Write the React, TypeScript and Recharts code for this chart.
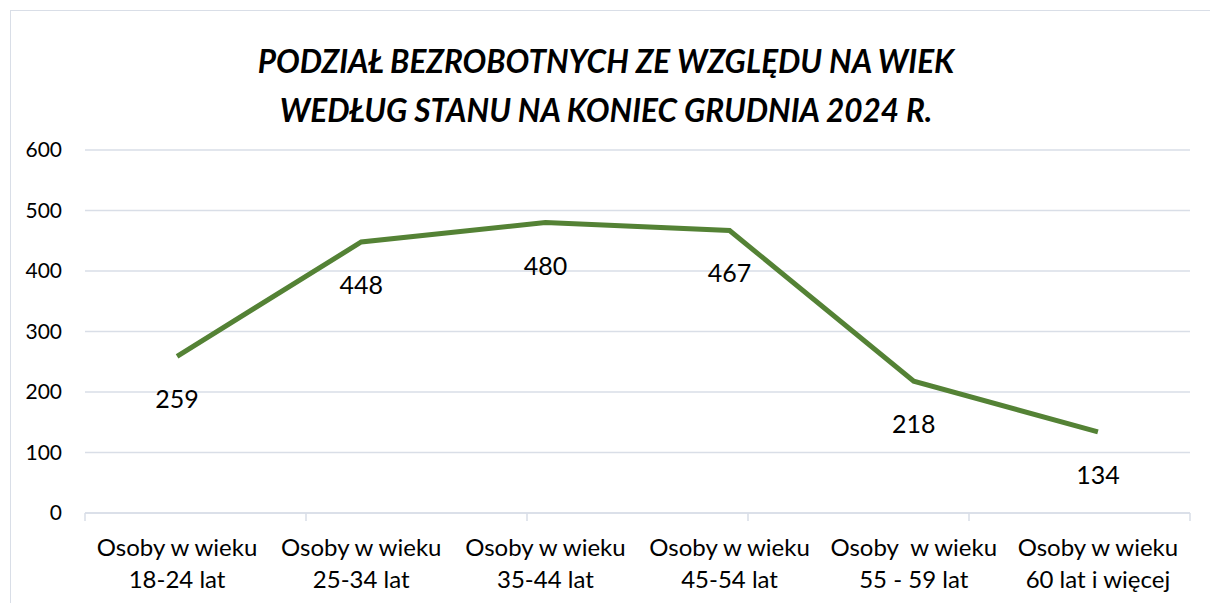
import { ComposedChart, Line, XAxis, YAxis, CartesianGrid, LabelList } from "recharts";

const CATEGORY_TOP = ["Osoby w wieku", "Osoby w wieku", "Osoby w wieku", "Osoby w wieku", "Osoby  w wieku", "Osoby w wieku"];
const CATEGORY_BOTTOM = ["18-24 lat", "25-34 lat", "35-44 lat", "45-54 lat", "55 - 59 lat", "60 lat i więcej"];
const VALUES = [259, 448, 480, 467, 218, 134];
const Y_TICKS = [0, 100, 200, 300, 400, 500, 600];
const BAND_EDGES = [0, 1, 2, 3, 4, 5, 6];

const TITLE_1 = "PODZIAŁ BEZROBOTNYCH ZE WZGLĘDU NA WIEK";
const TITLE_2 = "WEDŁUG STANU NA KONIEC GRUDNIA 2024 R.";

const GREEN = "#548235";
const GRID = "#d9dee7";
const FONT = "Lato, 'Liberation Sans', sans-serif";

const data = VALUES.map((v, i) => ({
  name: `${CATEGORY_TOP[i]}|${CATEGORY_BOTTOM[i]}`,
  value: v,
}));

function CategoryTick(props: any) {
  const { x, y, payload } = props;
  const [top, bottom] = String(payload.value).split("|");
  return (
    <text x={x} y={y} textAnchor="middle" fill="#000" fontSize={24} fontFamily={FONT} style={{ whiteSpace: "pre" }}>
      <tspan x={x} dy={42}>{top}</tspan>
      <tspan x={x} dy={32}>{bottom}</tspan>
    </text>
  );
}

function ValueLabel(props: any) {
  const { x, y, value } = props;
  return (
    <text x={x} y={y + 42} textAnchor="middle" dominantBaseline="central" fill="#000" fontSize={25} fontFamily={FONT}>
      {value}
    </text>
  );
}

export default function App() {
  return (
    <div style={{ position: "relative", width: 1210, height: 603, overflow: "hidden", background: "#fff" }}>
      <style>{`body{margin:0;overflow:hidden}`}</style>
      <div
        style={{
          position: "absolute",
          left: 10,
          top: 10,
          width: 1260,
          height: 700,
          border: `1px solid ${GRID}`,
        }}
      />
      <div
        style={{
          position: "absolute",
          left: 0,
          top: 37,
          width: 1212,
          textAlign: "center",
          fontFamily: FONT,
          fontWeight: 700,
          fontStyle: "italic",
          fontSize: 31.5,
          lineHeight: "49px",
          color: "#000",
        }}
      >
        <div>{TITLE_1}</div>
        <div>{TITLE_2}</div>
      </div>
      <div style={{ position: "absolute", left: 0, top: 0 }}>
        <ComposedChart width={1210} height={603} data={data} margin={{ top: 150, right: 20, left: 0, bottom: 0 }}>
          <CartesianGrid vertical={false} stroke={GRID} strokeWidth={1.5} xAxisId="axisB" />
          <XAxis
            xAxisId="axisA"
            type="number"
            domain={[0, 6]}
            ticks={BAND_EDGES}
            height={1}
            tickSize={8}
            tickFormatter={() => ""}
            axisLine={{ stroke: GRID, strokeWidth: 1.5 }}
            tickLine={{ stroke: GRID, strokeWidth: 1.5 }}
          />
          <XAxis
            xAxisId="axisB"
            dataKey="name"
            scale="band"
            height={89}
            interval={0}
            axisLine={false}
            tickLine={false}
            tickSize={0}
            tickMargin={0}
            tick={<CategoryTick />}
          />
          <YAxis
            domain={[0, 600]}
            ticks={Y_TICKS}
            width={85}
            axisLine={false}
            tickLine={false}
            tickMargin={17}
            tick={{ fontSize: 21, fill: "#000", fontFamily: FONT }}
          />
          <Line
            xAxisId="axisB"
            dataKey="value"
            stroke={GREEN}
            strokeWidth={5}
            dot={false}
            activeDot={false}
            type="linear"
            isAnimationActive={false}
          >
            <LabelList dataKey="value" content={<ValueLabel />} />
          </Line>
        </ComposedChart>
      </div>
    </div>
  );
}
